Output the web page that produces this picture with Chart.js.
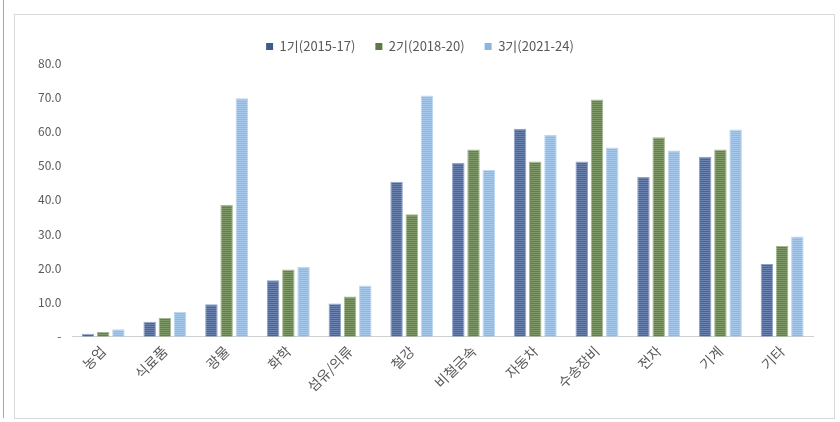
<!DOCTYPE html>
<html>
<head>
<meta charset="utf-8">
<script src="https://cdn.jsdelivr.net/npm/chart.js"></script>
<style>
  html, body { margin: 0; padding: 0; background: #fff; }
  #wrap { position: relative; width: 840px; height: 422px; }
  #leftLine { position: absolute; left: 3px; top: 0; width: 1px; height: 418px; background: #a6a6a6; }
  #box { position: absolute; left: 14px; top: 14px; width: 819px; height: 403px; border: 1px solid #d9d9d9; }
  #chartHolder { position: absolute; left: 0; top: 0; width: 819px; height: 403px; }
</style>
</head>
<body>
<div id="wrap">
  <div id="leftLine"></div>
  <div id="box"><div id="chartHolder"><canvas id="c"></canvas></div></div>
</div>
<script>
// categories and series
const categories = ['농업', '식료품', '광물', '화학', '섬유/의류', '철강', '비철금속', '자동차', '수송장비', '전자', '기계', '기타'];
const period1 = [0.9, 4.4, 9.5, 16.5, 9.7, 45.3, 50.8, 60.8, 51.2, 46.7, 52.6, 21.3];
const period2 = [1.4, 5.5, 38.5, 19.7, 11.8, 35.8, 54.7, 51.2, 69.3, 58.3, 54.7, 26.5];
const period3 = [2.2, 7.3, 69.7, 20.5, 15.0, 70.5, 48.8, 59.0, 55.3, 54.4, 60.6, 29.3];
const seriesNames = ['1기(2015-17)', '2기(2018-20)', '3기(2021-24)'];
const yTicks = [0, 10, 20, 30, 40, 50, 60, 70, 80];

// striped fill like the original
function stripes(base, line) {
    const cv = document.createElement('canvas');
    cv.width = 4; cv.height = 2;
    const g = cv.getContext('2d');
    g.fillStyle = base; g.fillRect(0, 0, 4, 2);
    g.fillStyle = line; g.fillRect(0, 1, 4, 1);
    return g.createPattern(cv, 'repeat');
}

const fills = [
    stripes('#4a6597', '#6a82ad'),
    stripes('#637f4a', '#7f9867'),
    stripes('#8db8e2', '#a6c8ea')
];
const edges = ['#8fa3c4', '#a5b894', '#bcd6f0'];
const swatch = ['#3f5a8c', '#5d7a45', '#8ab6e0'];

const fontStack = "'Noto Sans CJK KR', 'Noto Sans', sans-serif";
const ctx = document.getElementById('c').getContext('2d');
new Chart(ctx, {
    type: 'bar',
    data: {
        labels: categories,
        datasets: [period1, period2, period3].map((d, i) => ({
            label: seriesNames[i],
            data: d,
            backgroundColor: fills[i],
            borderColor: edges[i],
            borderWidth: 1,
            categoryPercentage: 0.74,
            barPercentage: 0.82
        }))
    },
    options: {
        responsive: true,
        maintainAspectRatio: false,
        animation: false,
        layout: { padding: { left: 12, right: 21, top: 5, bottom: 17 } },
        plugins: {
            legend: {
                position: 'top',
                labels: {
                    boxWidth: 7,
                    boxHeight: 7,
                    padding: 20,
                    color: '#595959',
                    font: { family: fontStack, size: 13 },
                    generateLabels: chart => chart.data.datasets.map((ds, i) => ({
                        text: ds.label,
                        fillStyle: swatch[i],
                        strokeStyle: swatch[i],
                        lineWidth: 0,
                        fontColor: '#595959',
                        datasetIndex: i
                    }))
                }
            },
            tooltip: { enabled: false }
        },
        scales: {
            x: {
                grid: { display: false, drawTicks: false },
                border: { color: '#d0d0d0', width: 1 },
                ticks: {
                    color: '#595959',
                    font: { family: fontStack, size: 14 },
                    maxRotation: 45,
                    minRotation: 45,
                    padding: 6
                }
            },
            y: {
                min: 0,
                max: 80,
                afterBuildTicks: axis => { axis.ticks = yTicks.map(v => ({ value: v })); },
                grid: { display: false, drawTicks: false },
                border: { display: false },
                ticks: {
                    color: '#595959',
                    font: { family: fontStack, size: 12 },
                    padding: 11,
                    callback: v => v === 0 ? '-' : v.toFixed(1)
                }
            }
        }
    }
});
</script>
</body>
</html>
